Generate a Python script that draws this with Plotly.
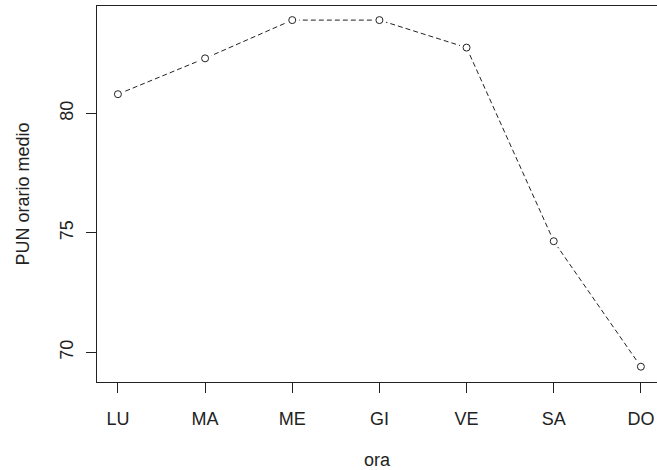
import plotly.graph_objects as go

# Average hourly PUN by weekday
giorni = ["LU", "MA", "ME", "GI", "VE", "SA", "DO"]
pun_medio = [80.8, 82.3, 83.9, 83.9, 82.75, 74.65, 69.4]
y_ticks = [70, 75, 80]

x = list(range(1, len(giorni) + 1))
ink = "#222222"
font = dict(family="Liberation Sans, Arial, sans-serif", size=18, color=ink)

fig = go.Figure()
# dashed connecting line
fig.add_trace(go.Scatter(
    x=x, y=pun_medio, mode="lines",
    line=dict(color=ink, width=1, dash="5px,3px"),
    hoverinfo="skip", showlegend=False,
))
# white halos leave a small gap in the line around each point (type="b" look)
fig.add_trace(go.Scatter(
    x=x, y=pun_medio, mode="markers",
    marker=dict(symbol="circle", size=14, color="white", line=dict(width=0)),
    hoverinfo="skip", showlegend=False,
))
# open circle points
fig.add_trace(go.Scatter(
    x=x, y=pun_medio, mode="markers",
    marker=dict(symbol="circle-open", size=7, color=ink, line=dict(width=1, color=ink)),
    showlegend=False,
))

fig.update_layout(
    width=657, height=470,
    margin=dict(l=97, r=0, t=6, b=88),
    paper_bgcolor="white", plot_bgcolor="white",
    font=font,
)
fig.update_xaxes(
    range=[0.76, 7.185],
    tickmode="array", tickvals=x, ticktext=giorni,
    ticks="outside", ticklen=10, tickcolor=ink, tickwidth=1,
    showline=True, linecolor=ink, linewidth=1, mirror=True,
    showgrid=False, zeroline=False,
    ticklabelstandoff=10,
    title=dict(text="ora", standoff=28, font=font),
)
fig.update_yaxes(
    range=[68.76, 84.49],
    tickmode="array", tickvals=y_ticks,
    ticks="outside", ticklen=10, tickcolor=ink, tickwidth=1, tickangle=-90,
    showline=True, linecolor=ink, linewidth=1,
    showgrid=False, zeroline=False,
    ticklabelstandoff=6,
    title=dict(text="PUN orario medio", standoff=22, font=font),
)

fig.write_html("out.html")
